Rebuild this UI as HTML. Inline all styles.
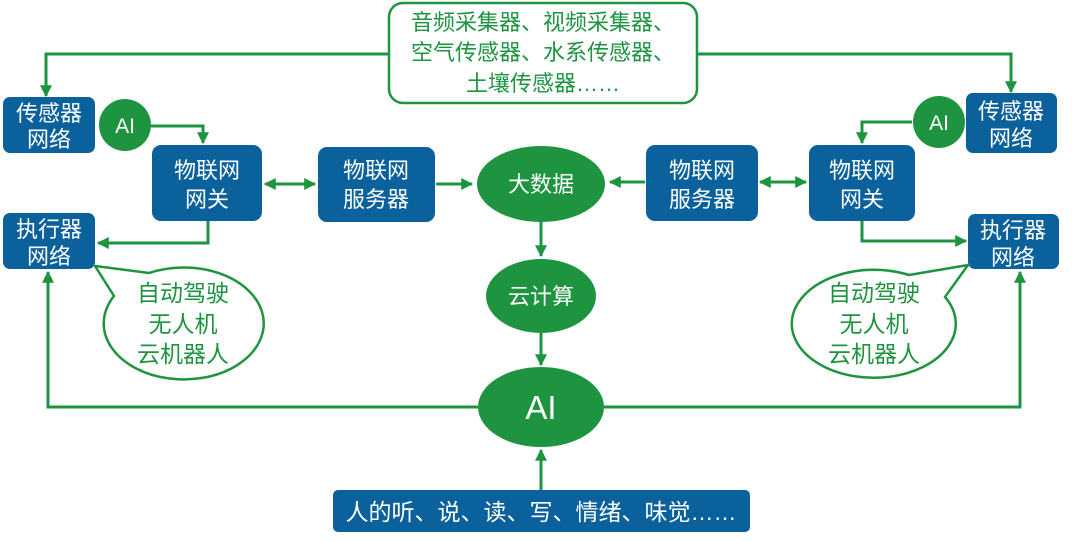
<!DOCTYPE html>
<html><head><meta charset="utf-8"><style>
body{margin:0;background:#fff;}
svg{display:block;font-family:"Liberation Sans","Noto Sans CJK SC",sans-serif;}
</style></head><body>
<svg width="1080" height="541" viewBox="0 0 1080 541">
<defs>
<marker id="a" viewBox="0 0 10 10" refX="9" refY="5" markerWidth="4" markerHeight="4" orient="auto-start-reverse"><path d="M0,0L10,5L0,10z" fill="#1e9440"/></marker>
</defs>
<g stroke="#1e9440" stroke-width="3" fill="none">
<polyline points="388,54 46,54 46,96" marker-end="url(#a)"/>
<polyline points="698,54 1011,54 1011,92" marker-end="url(#a)"/>
<polyline points="150,126 203,126 203,143" marker-end="url(#a)"/>
<line x1="265" y1="184" x2="315" y2="184" marker-start="url(#a)" marker-end="url(#a)"/>
<line x1="436" y1="184" x2="472" y2="184" marker-end="url(#a)"/>
<polyline points="208,221 208,243 98,243" marker-end="url(#a)"/>
<polyline points="478,407 48,407 48,272" marker-end="url(#a)"/>
<polyline points="912,122 862,122 862,143" marker-end="url(#a)"/>
<line x1="760" y1="182" x2="806" y2="182" marker-start="url(#a)" marker-end="url(#a)"/>
<line x1="645" y1="182" x2="610" y2="182" marker-end="url(#a)"/>
<polyline points="862,221 862,241 966,241" marker-end="url(#a)"/>
<polyline points="604,407 1020,407 1020,272" marker-end="url(#a)"/>
<line x1="541" y1="222" x2="541" y2="256" marker-end="url(#a)"/>
<line x1="541" y1="333" x2="541" y2="365" marker-end="url(#a)"/>
<line x1="541" y1="490" x2="541" y2="450" marker-end="url(#a)"/>
</g>
<rect x="389" y="3" width="308" height="100" rx="14" fill="#fff" stroke="#1e9440" stroke-width="2.5"/>
<g fill="#1e9440" font-size="22" text-anchor="middle">
<text x="543" y="30">音频采集器、视频采集器、</text>
<text x="543" y="60">空气传感器、水系传感器、</text>
<text x="543" y="91">土壤传感器……</text>
</g>
<g fill="#0a619c">
<rect x="3" y="97" width="92" height="56" rx="7"/>
<rect x="3" y="213" width="92" height="56" rx="7"/>
<rect x="152" y="145" width="110" height="76" rx="9"/>
<rect x="318" y="147" width="117" height="75" rx="9"/>
<rect x="966" y="93" width="91" height="60" rx="7"/>
<rect x="968" y="214" width="91" height="55" rx="7"/>
<rect x="809" y="145" width="106" height="76" rx="9"/>
<rect x="646" y="145" width="112" height="76" rx="9"/>
<rect x="333" y="490" width="417" height="42" rx="5"/>
</g>
<g fill="#fff" font-size="22" text-anchor="middle">
<text x="49" y="121">传感器</text><text x="49" y="147">网络</text>
<text x="49" y="237">执行器</text><text x="49" y="264">网络</text>
<text x="207" y="178">物联网</text><text x="207" y="207">网关</text>
<text x="376" y="178">物联网</text><text x="376" y="207">服务器</text>
<text x="1011" y="119">传感器</text><text x="1011" y="146">网络</text>
<text x="1013" y="238">执行器</text><text x="1013" y="265">网络</text>
<text x="862" y="178">物联网</text><text x="862" y="207">网关</text>
<text x="702" y="178">物联网</text><text x="702" y="207">服务器</text>
<text x="541" y="520" font-size="23">人的听、说、读、写、情绪、味觉……</text>
</g>
<g fill="#1e9440">
<circle cx="125" cy="125" r="26"/>
<circle cx="939" cy="122" r="26"/>
<ellipse cx="541" cy="184" rx="64" ry="38"/>
<ellipse cx="541" cy="296" rx="55" ry="37"/>
<ellipse cx="541" cy="407" rx="63" ry="40"/>
</g>
<g fill="#fff" text-anchor="middle">
<text x="125" y="133" font-size="21">AI</text>
<text x="939" y="130" font-size="21">AI</text>
<text x="541" y="192" font-size="22">大数据</text>
<text x="541" y="304" font-size="22">云计算</text>
<text x="541" y="419" font-size="33">AI</text>
</g>
<g fill="#fff" stroke="#1e9440" stroke-width="2.5">
<path d="M149,273 L95,266 L114,296 A80,56 0 1 0 149,273 Z"/>
<path d="M909,275 L968,265 L945,297 A82,54 0 1 1 909,275 Z"/>
</g>
<g fill="#1e9440" font-size="23" text-anchor="middle">
<text x="183" y="301">自动驾驶</text><text x="183" y="332">无人机</text><text x="183" y="362">云机器人</text>
<text x="874" y="301">自动驾驶</text><text x="874" y="332">无人机</text><text x="874" y="362">云机器人</text>
</g>
</svg>
</body></html>
